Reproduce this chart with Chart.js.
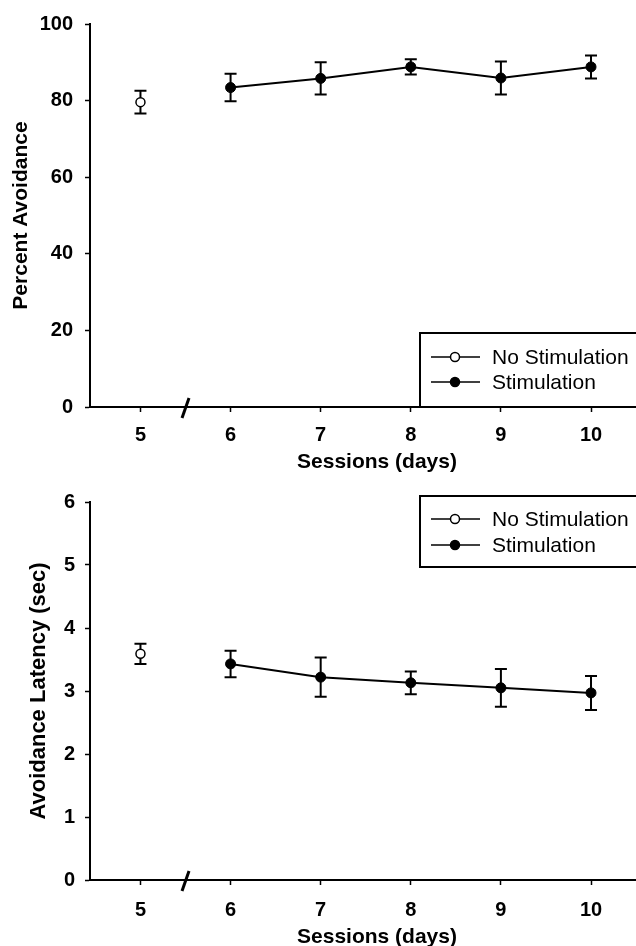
<!DOCTYPE html>
<html>
<head>
<meta charset="utf-8">
<script src="https://cdn.jsdelivr.net/npm/chart.js@4.4.0/dist/chart.umd.min.js"></script>
<style>
  html, body { margin: 0; padding: 0; background: #fff; }
  body { width: 636px; height: 946px; position: relative; overflow: hidden; }
  canvas { position: absolute; left: 0; }
  #top { top: 0; }
  #bottom { top: 480px; }
</style>
</head>
<body>
<canvas id="top" width="670" height="480"></canvas>
<canvas id="bottom" width="670" height="470"></canvas>
<script>
// data
const sessionTicks = [5, 6, 7, 8, 9, 10];
const breakAt = 5.5;
const legendLabels = ['No Stimulation', 'Stimulation'];

const noStimDays = [5];
const stimDays = [6, 7, 8, 9, 10];

const avoidTicks = [0, 20, 40, 60, 80, 100];
const avoidNoStim = [79.6];
const avoidNoStimErr = [3.0];
const avoidStim = [83.4, 85.8, 88.8, 85.9, 88.8];
const avoidStimErr = [3.6, 4.2, 2.0, 4.3, 3.0];

const latTicks = [0, 1, 2, 3, 4, 5, 6];
const latNoStim = [3.59];
const latNoStimErr = [0.16];
const latStim = [3.43, 3.22, 3.13, 3.05, 2.97];
const latStimErr = [0.21, 0.31, 0.18, 0.30, 0.27];

const FONT = 'Arial, "Liberation Sans", sans-serif';
Chart.defaults.font.family = FONT;
Chart.defaults.color = '#000';

const pts = (xs, ys) => xs.map((x, i) => ({ x: x, y: ys[i] }));

// error bars go under the markers
const errorBars = {
  id: 'errorBars',
  beforeDatasetsDraw(chart) {
    const ctx = chart.ctx;
    const ys = chart.scales.y;
    ctx.save();
    ctx.strokeStyle = '#000';
    ctx.lineWidth = 2;
    chart.data.datasets.forEach((ds, di) => {
      const meta = chart.getDatasetMeta(di);
      meta.data.forEach((el, i) => {
        const v = ds.data[i].y, e = ds.err[i];
        const y1 = ys.getPixelForValue(v + e);
        const y2 = ys.getPixelForValue(v - e);
        ctx.beginPath();
        ctx.moveTo(el.x, y1); ctx.lineTo(el.x, y2);
        ctx.moveTo(el.x - 6, y1); ctx.lineTo(el.x + 6, y1);
        ctx.moveTo(el.x - 6, y2); ctx.lineTo(el.x + 6, y2);
        ctx.stroke();
      });
    });
    ctx.restore();
  }
};

const axisBreak = {
  id: 'axisBreak',
  afterDraw(chart) {
    const ctx = chart.ctx;
    const x = chart.scales.x.getPixelForValue(breakAt);
    const y = chart.chartArea.bottom;
    ctx.save();
    ctx.strokeStyle = '#000';
    ctx.lineWidth = 3;
    ctx.beginPath();
    ctx.moveTo(x - 3.5, y + 11);
    ctx.lineTo(x + 3.5, y - 9);
    ctx.stroke();
    ctx.restore();
  }
};

const legendBox = {
  id: 'legendBox',
  afterDraw(chart, args, opts) {
    const ctx = chart.ctx;
    ctx.save();
    ctx.strokeStyle = '#000';
    ctx.lineWidth = 2;
    ctx.strokeRect(opts.left, opts.top, opts.right - opts.left, opts.bottom - opts.top);
    ctx.font = '21px ' + FONT;
    ctx.textBaseline = 'middle';
    ctx.fillStyle = '#000';
    chart.data.datasets.forEach((ds, i) => {
      const y = opts.rows[i];
      ctx.lineWidth = 1.5;
      ctx.beginPath();
      ctx.moveTo(431, y); ctx.lineTo(480, y);
      ctx.stroke();
      ctx.beginPath();
      ctx.arc(455, y, 4.5, 0, Math.PI * 2);
      ctx.fillStyle = ds.pointBackgroundColor;
      ctx.fill();
      ctx.stroke();
      ctx.fillStyle = '#000';
      ctx.fillText(ds.label, 492, y + 1);
    });
    ctx.restore();
  }
};

function makeChart(id, cfg) {
  return new Chart(document.getElementById(id), {
    type: 'line',
    data: {
      datasets: [
        {
          label: legendLabels[0],
          data: pts(noStimDays, cfg.noStim),
          err: cfg.noStimErr,
          showLine: false,
          pointRadius: 4.5,
          pointBorderWidth: 1.5,
          pointBackgroundColor: '#fff',
          pointBorderColor: '#000'
        },
        {
          label: legendLabels[1],
          data: pts(stimDays, cfg.stim),
          err: cfg.stimErr,
          borderColor: '#000',
          borderWidth: 2,
          pointRadius: 5,
          pointBorderWidth: 1,
          pointBackgroundColor: '#000',
          pointBorderColor: '#000'
        }
      ]
    },
    options: {
      responsive: false,
      animation: false,
      devicePixelRatio: 1,
      layout: { padding: { top: cfg.padTop, left: 0, right: 0, bottom: 0 } },
      plugins: {
        legend: { display: false },
        tooltip: { enabled: false },
        legendBox: cfg.legend
      },
      scales: {
        x: {
          type: 'linear',
          min: 4.44,
          max: 10.81,
          afterBuildTicks: (s) => { s.ticks = sessionTicks.map(v => ({ value: v })); },
          afterFit: (s) => { s.height = cfg.xHeight; },
          grid: { drawOnChartArea: false, tickLength: 5, tickColor: '#000', tickWidth: 1.5 },
          border: { color: '#000', width: 2 },
          ticks: { padding: cfg.xTickPad, font: { size: 20, weight: 'bold' }, maxRotation: 0 },
          title: {
            display: true,
            text: 'Sessions (days)',
            font: { size: 21, weight: 'bold' },
            padding: { top: 0, bottom: cfg.xTitlePad }
          }
        },
        y: {
          min: cfg.yTicks[0],
          max: cfg.yTicks[cfg.yTicks.length - 1],
          afterBuildTicks: (s) => { s.ticks = cfg.yTicks.map(v => ({ value: v })); },
          afterFit: (s) => { s.width = 90; },
          grid: { drawOnChartArea: false, tickLength: 5, tickColor: '#000', tickWidth: 1.5 },
          border: { color: '#000', width: 2 },
          ticks: { padding: cfg.yTickPad, font: { size: 20, weight: 'bold' } },
          title: {
            display: true,
            text: cfg.yTitle,
            font: { size: cfg.yTitleSize, weight: 'bold' },
            padding: { top: cfg.yTitlePad, bottom: 0 }
          }
        }
      }
    },
    plugins: [errorBars, axisBreak, legendBox]
  });
}

makeChart('top', {
  noStim: avoidNoStim, noStimErr: avoidNoStimErr,
  stim: avoidStim, stimErr: avoidStimErr,
  yTicks: avoidTicks,
  yTitle: 'Percent Avoidance',
  yTitleSize: 21, yTitlePad: 9, yTickPad: 12,
  padTop: 21, xHeight: 73, xTickPad: 11, xTitlePad: 5,
  legend: { left: 420, top: 333, right: 690, bottom: 407, rows: [357, 382] }
});

makeChart('bottom', {
  noStim: latNoStim, noStimErr: latNoStimErr,
  stim: latStim, stimErr: latStimErr,
  yTicks: latTicks,
  yTitle: 'Avoidance Latency (sec)',
  yTitleSize: 22, yTitlePad: 26, yTickPad: 10,
  padTop: 15, xHeight: 70, xTickPad: 13, xTitlePad: 0,
  legend: { left: 420, top: 16, right: 690, bottom: 87, rows: [39, 65] }
});
</script>
</body>
</html>
